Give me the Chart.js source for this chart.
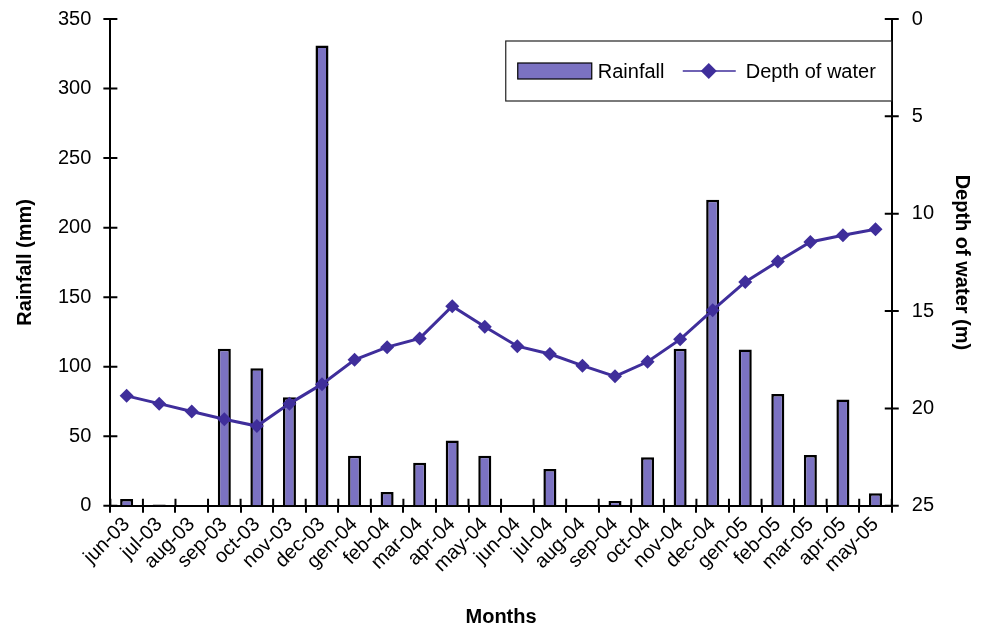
<!DOCTYPE html>
<html>
<head>
<meta charset="utf-8">
<script src="https://cdn.jsdelivr.net/npm/chart.js@4.4.1/dist/chart.umd.min.js"></script>
<style>
  html, body { margin: 0; padding: 0; background: #fff; }
  #wrap { width: 984px; height: 629px; }
</style>
</head>
<body>
<div id="wrap"><canvas id="chart" width="984" height="629"></canvas></div>
<script>
// months on the x axis
const months = ['jun-03', 'jul-03', 'aug-03', 'sep-03', 'oct-03', 'nov-03', 'dec-03',
  'gen-04', 'feb-04', 'mar-04', 'apr-04', 'may-04', 'jun-04', 'jul-04', 'aug-04',
  'sep-04', 'oct-04', 'nov-04', 'dec-04', 'gen-05', 'feb-05', 'mar-05', 'apr-05', 'may-05']

// rainfall (mm), bars on left axis
const rainfall = [5, 1, 0, 113, 99, 78, 331, 36, 10, 31, 47, 36, 0, 26.5, 0,
  3.5, 35, 113, 220, 112.5, 80.5, 36.5, 76.5, 9]

// depth of water (m), line on right (reversed) axis
const depth = [19.35, 19.75, 20.15, 20.55, 20.9, 19.75, 18.75, 17.5, 16.85, 16.4,
  14.75, 15.8, 16.8, 17.2, 17.8, 18.35, 17.6, 16.45, 14.95, 13.5, 12.45, 11.45, 11.1, 10.8]

const barColor = '#7b72c2'
const lineColor = '#3f2e9b'
const font = 'Liberation Sans, Arial, sans-serif'

// tick marks crossing the axes (7px each side) + the boxed legend
const extras = {
  id: 'extras',
  afterDraw(chart) {
    const ctx = chart.ctx
    const area = chart.chartArea
    const y = chart.scales.y
    const y1 = chart.scales.y1
    ctx.save()
    ctx.strokeStyle = '#000'
    ctx.lineWidth = 2
    ctx.beginPath()
    y.ticks.forEach((t, i) => {
      const p = y.getPixelForTick(i)
      ctx.moveTo(area.left - 7, p); ctx.lineTo(area.left + 7, p)
    })
    y1.ticks.forEach((t, i) => {
      const p = y1.getPixelForTick(i)
      ctx.moveTo(area.right + 7, p); ctx.lineTo(area.right - 7, p)
    })
    const n = months.length
    for (let i = 0; i <= n; i++) {
      const p = area.left + i * area.width / n
      ctx.moveTo(p, area.bottom); ctx.lineTo(p, area.bottom - 7)
    }
    ctx.stroke()

    // legend box
    const bx = area.right - 386, by = area.top + 22, bw = 386, bh = 60
    ctx.fillStyle = '#fff'
    ctx.fillRect(bx, by, bw, bh)
    ctx.lineWidth = 1.2
    ctx.strokeStyle = '#222'
    ctx.strokeRect(bx, by, bw, bh)
    const cy = by + bh / 2
    ctx.fillStyle = barColor
    ctx.fillRect(bx + 12, cy - 8, 74, 16)
    ctx.strokeStyle = '#000'
    ctx.strokeRect(bx + 12, cy - 8, 74, 16)
    ctx.fillStyle = '#000'
    ctx.font = '20px ' + font
    ctx.textBaseline = 'middle'
    ctx.fillText('Rainfall', bx + 92, cy + 1)
    ctx.strokeStyle = lineColor
    ctx.lineWidth = 1.5
    ctx.beginPath()
    ctx.moveTo(bx + 177, cy); ctx.lineTo(bx + 230, cy)
    ctx.stroke()
    ctx.fillStyle = lineColor
    ctx.beginPath()
    const dx = bx + 203
    ctx.moveTo(dx, cy - 8); ctx.lineTo(dx + 8, cy); ctx.lineTo(dx, cy + 8); ctx.lineTo(dx - 8, cy)
    ctx.closePath()
    ctx.fill()
    ctx.fillStyle = '#000'
    ctx.fillText('Depth of water', bx + 240, cy + 1)
    ctx.restore()
  }
}

const data = {
  labels: months,
  datasets: [
    {
      type: 'line',
      label: 'Depth of water',
      data: depth,
      yAxisID: 'y1',
      borderColor: lineColor,
      backgroundColor: lineColor,
      borderWidth: 3,
      pointStyle: 'rectRot',
      pointRadius: 7,
      pointBorderWidth: 0,
      tension: 0,
      order: 0
    },
    {
      type: 'bar',
      label: 'Rainfall',
      data: rainfall,
      yAxisID: 'y',
      backgroundColor: barColor,
      borderColor: '#000',
      borderWidth: 2.5,
      barPercentage: 0.4,
      categoryPercentage: 1,
      order: 1
    }
  ]
}

const config = {
  type: 'bar',
  data: data,
  plugins: [extras],
  options: {
    responsive: false,
    animation: false,
    layout: { autoPadding: false, padding: { top: 19, right: 0, left: 9, bottom: 0 } },
    plugins: {
      legend: { display: false },
      tooltip: { enabled: false }
    },
    scales: {
      x: {
        offset: true,
        grid: { offset: true, drawOnChartArea: false, color: '#000', lineWidth: 2, tickLength: 7 },
        border: { color: '#000', width: 2 },
        ticks: { color: '#000', font: { family: font, size: 20 }, autoSkip: false, minRotation: 45, maxRotation: 45, padding: 0 },
        title: { display: true, text: 'Months', color: '#000', font: { family: font, size: 20, weight: 'bold' }, padding: { top: 28, bottom: 0 } }
      },
      y: {
        position: 'left',
        min: 0,
        max: 350,
        grid: { drawOnChartArea: false, color: 'rgba(0,0,0,0)', tickLength: 19 },
        border: { color: '#000', width: 2 },
        ticks: { stepSize: 50, color: '#000', font: { family: font, size: 20 }, padding: 0 },
        title: { display: true, text: 'Rainfall (mm)', color: '#000', font: { family: font, size: 20, weight: 'bold' }, padding: { top: 4, bottom: 21 } }
      },
      y1: {
        position: 'right',
        reverse: true,
        min: 0,
        max: 25,
        grid: { drawOnChartArea: false, color: 'rgba(0,0,0,0)', tickLength: 20 },
        border: { color: '#000', width: 2 },
        ticks: { stepSize: 5, color: '#000', font: { family: font, size: 20 }, padding: 0 },
        title: { display: true, text: 'Depth of water (m)', color: '#000', font: { family: font, size: 20, weight: 'bold' }, padding: { top: 10, bottom: 16 } }
      }
    }
  }
}

const myChart = new Chart(document.getElementById('chart'), config)
</script>
</body>
</html>
